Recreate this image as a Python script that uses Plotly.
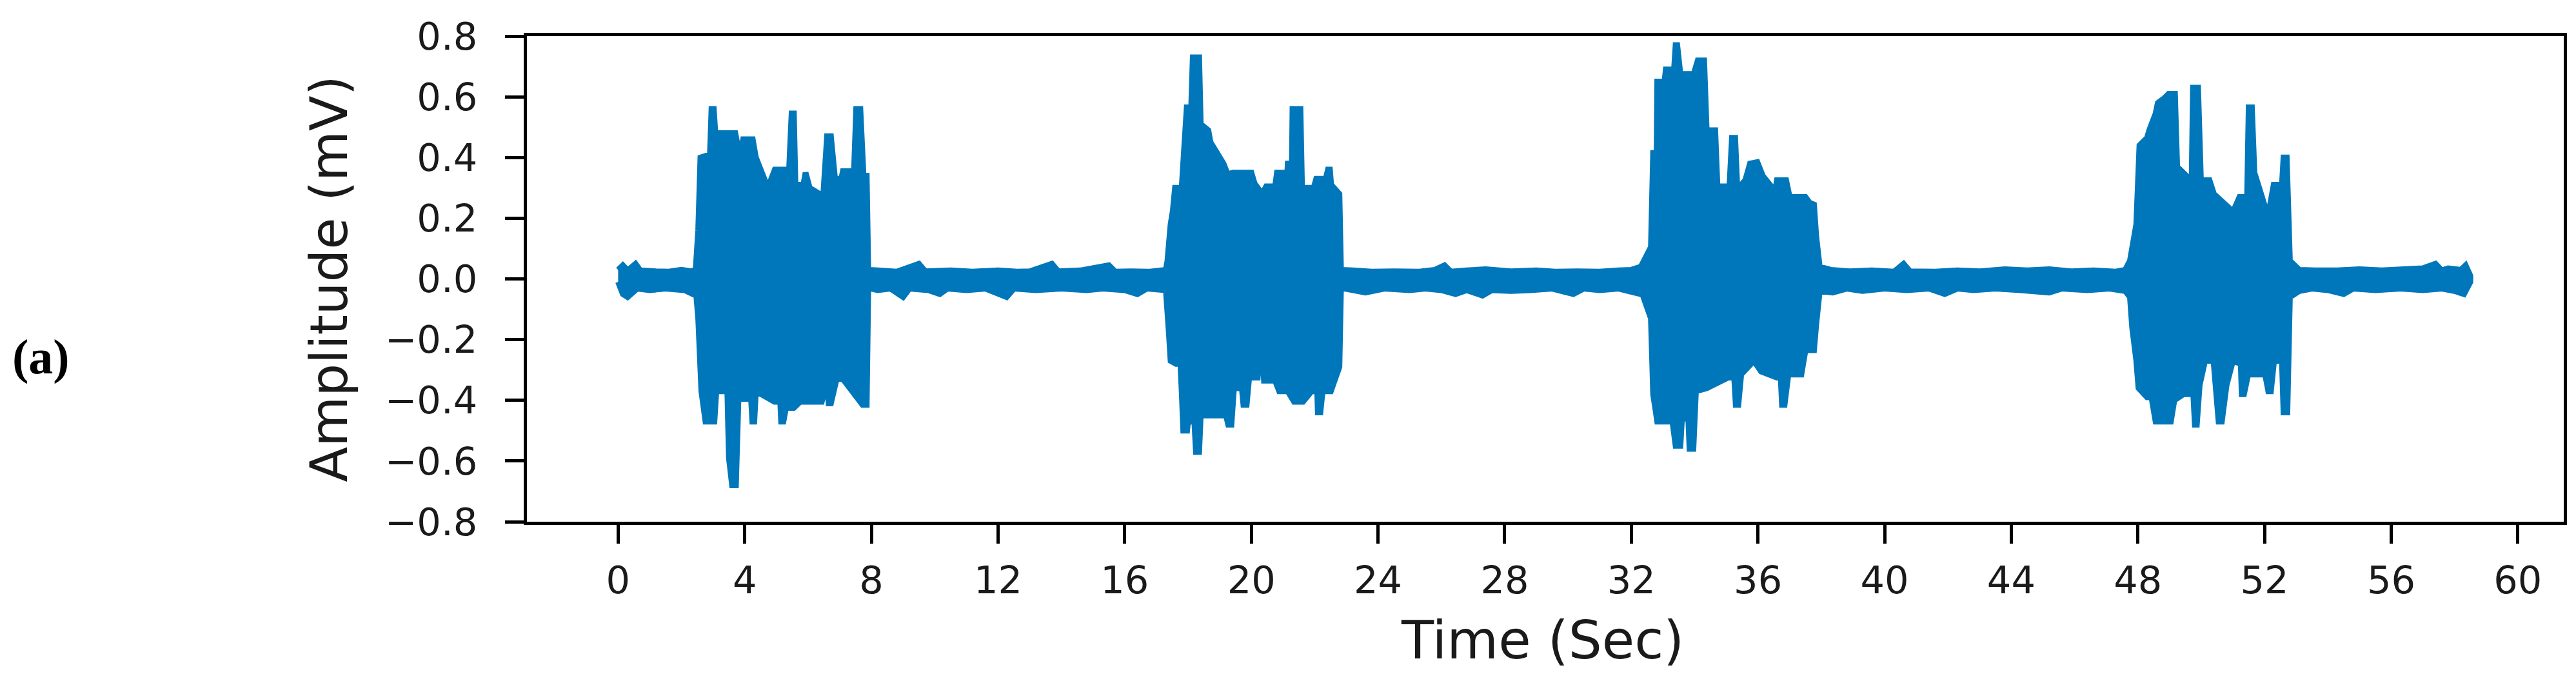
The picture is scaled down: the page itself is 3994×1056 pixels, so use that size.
import plotly.graph_objects as go

# EMG recording (a): edges of the raw trace band
# each entry is (time in s, amplitude in mV)

# upper edge, segment by segment
upper_rest_0 = [(0.0, 0.03), (0.15, 0.045), (0.3, 0.028), (0.55, 0.05), (0.7, 0.028),
                (1.2, 0.025), (1.6, 0.024), (2.0, 0.03), (2.3, 0.025), (2.45, 0.03)]
upper_burst_1 = [(2.53, 0.16), (2.6, 0.40), (2.9, 0.41), (2.95, 0.56), (3.02, 0.56),
                 (3.07, 0.48), (3.7, 0.48), (3.85, 0.40), (3.95, 0.46), (4.25, 0.46),
                 (4.35, 0.40), (4.73, 0.30), (4.95, 0.36), (5.4, 0.36), (5.48, 0.545),
                 (5.55, 0.545), (5.6, 0.31), (5.85, 0.31), (5.92, 0.35), (6.05, 0.30),
                 (6.36, 0.28), (6.45, 0.23), (6.6, 0.47), (6.72, 0.47), (6.85, 0.33),
                 (7.05, 0.33), (7.1, 0.355), (7.45, 0.355), (7.52, 0.56), (7.65, 0.56),
                 (7.75, 0.34), (7.85, 0.34), (7.9, 0.03)]
upper_rest_1 = [(8.2, 0.028), (8.8, 0.024), (9.5, 0.05), (9.7, 0.025), (10.5, 0.028),
                (11.2, 0.024), (12.0, 0.028), (12.6, 0.024), (13.0, 0.025), (13.7, 0.05),
                (13.9, 0.025), (14.6, 0.028), (15.5, 0.045), (15.7, 0.024), (16.2, 0.025),
                (16.8, 0.024), (17.3, 0.03)]
upper_burst_2 = [(17.35, 0.06), (17.45, 0.18), (17.52, 0.225), (17.59, 0.30), (17.8, 0.30),
                 (17.86, 0.40), (17.96, 0.565), (18.1, 0.565), (18.15, 0.73), (18.35, 0.73),
                 (18.4, 0.51), (18.64, 0.49), (18.71, 0.45), (19.12, 0.38), (19.25, 0.345),
                 (19.42, 0.35), (20.0, 0.35), (20.1, 0.315), (20.34, 0.28), (20.47, 0.305),
                 (20.75, 0.305), (20.81, 0.35), (21.0, 0.35), (21.08, 0.23), (21.15, 0.38),
                 (21.28, 0.38), (21.3, 0.56), (21.55, 0.56), (21.6, 0.30), (21.97, 0.30),
                 (22.05, 0.33), (22.35, 0.33), (22.42, 0.36), (22.48, 0.36), (22.52, 0.31),
                 (22.78, 0.28), (22.83, 0.03)]
upper_rest_2 = [(23.2, 0.028), (23.8, 0.024), (24.5, 0.025), (25.3, 0.024), (25.8, 0.03),
                (26.1, 0.045), (26.3, 0.024), (26.8, 0.028), (27.4, 0.032), (28.2, 0.025),
                (29.0, 0.028), (29.6, 0.024), (30.3, 0.025), (31.0, 0.024), (31.6, 0.028),
                (32.0, 0.03), (32.3, 0.04)]
upper_burst_3 = [(32.35, 0.05), (32.62, 0.105), (32.69, 0.415), (32.8, 0.415), (32.82, 0.65),
                 (33.05, 0.65), (33.09, 0.69), (33.35, 0.69), (33.4, 0.77), (33.45, 0.77),
                 (33.55, 0.675), (33.97, 0.675), (34.1, 0.72), (34.3, 0.72), (34.38, 0.49),
                 (34.65, 0.49), (34.72, 0.305), (35.1, 0.305), (35.18, 0.465), (35.28, 0.465),
                 (35.35, 0.295), (35.6, 0.325), (35.75, 0.38), (35.98, 0.385), (36.15, 0.34),
                 (36.42, 0.305), (36.48, 0.25), (36.6, 0.325), (36.89, 0.325), (37.0, 0.27),
                 (37.5, 0.27), (37.64, 0.25), (37.77, 0.245), (37.84, 0.14), (37.95, 0.04)]
upper_rest_3 = [(38.3, 0.03), (38.9, 0.025), (39.6, 0.028), (40.3, 0.024), (40.6, 0.05),
                (40.8, 0.025), (41.6, 0.024), (42.3, 0.028), (43.0, 0.025), (43.8, 0.032),
                (44.5, 0.028), (45.2, 0.032), (45.9, 0.025), (46.6, 0.028), (47.3, 0.024),
                (47.6, 0.03)]
upper_burst_4 = [(47.75, 0.06), (47.95, 0.18), (48.05, 0.44), (48.29, 0.465), (48.36, 0.49),
                 (48.56, 0.545), (48.63, 0.58), (48.83, 0.595), (48.97, 0.61), (49.17, 0.61),
                 (49.24, 0.37), (49.58, 0.335), (49.7, 0.335), (49.74, 0.63), (49.9, 0.63),
                 (49.99, 0.325), (50.26, 0.325), (50.4, 0.28), (50.87, 0.235), (51.0, 0.22),
                 (51.21, 0.27), (51.45, 0.27), (51.5, 0.565), (51.6, 0.565), (51.68, 0.35),
                 (51.89, 0.28), (52.02, 0.235), (52.16, 0.235), (52.29, 0.31), (52.55, 0.31),
                 (52.6, 0.40), (52.7, 0.40), (52.8, 0.06)]
upper_rest_4 = [(53.1, 0.03), (53.6, 0.028), (54.3, 0.028), (55.0, 0.032), (55.7, 0.028),
                (56.4, 0.032), (57.0, 0.035), (57.4, 0.05), (57.6, 0.028), (57.8, 0.035),
                (58.2, 0.03), (58.35, 0.045), (58.5, 0.01)]

# lower edge, segment by segment
lower_rest_0 = [(0.0, -0.01), (0.15, -0.05), (0.3, -0.06), (0.6, -0.032), (1.0, -0.037),
                (1.5, -0.032), (2.1, -0.037), (2.36, -0.05), (2.45, -0.032)]
lower_burst_1 = [(2.53, -0.13), (2.63, -0.37), (2.76, -0.47), (3.04, -0.47), (3.1, -0.37),
                 (3.45, -0.37), (3.5, -0.59), (3.6, -0.68), (3.72, -0.68), (3.8, -0.395),
                 (4.2, -0.395), (4.24, -0.47), (4.3, -0.47), (4.35, -0.37), (4.94, -0.405),
                 (5.12, -0.405), (5.15, -0.47), (5.22, -0.47), (5.3, -0.425), (5.55, -0.425),
                 (5.75, -0.405), (6.43, -0.405), (6.6, -0.34), (6.65, -0.41), (6.72, -0.41),
                 (6.9, -0.33), (7.1, -0.33), (7.72, -0.415), (7.85, -0.415), (7.9, -0.03)]
lower_rest_1 = [(8.2, -0.037), (8.6, -0.032), (9.0, -0.06), (9.2, -0.032), (9.8, -0.037),
                (10.16, -0.05), (10.4, -0.032), (11.0, -0.037), (11.6, -0.032), (12.27, -0.06),
                (12.5, -0.032), (13.2, -0.037), (14.0, -0.032), (14.8, -0.037), (15.3, -0.032),
                (16.0, -0.037), (16.4, -0.05), (16.7, -0.032), (17.3, -0.037)]
lower_burst_2 = [(17.39, -0.17), (17.45, -0.27), (17.62, -0.28), (17.76, -0.28), (17.8, -0.37),
                 (17.85, -0.50), (17.97, -0.50), (18.0, -0.47), (18.2, -0.47), (18.25, -0.57),
                 (18.35, -0.57), (18.4, -0.45), (19.2, -0.45), (19.27, -0.48), (19.37, -0.48),
                 (19.45, -0.36), (19.7, -0.36), (19.75, -0.415), (19.85, -0.415), (19.93, -0.325),
                 (20.2, -0.325), (20.27, -0.215), (20.33, -0.215), (20.4, -0.335), (20.75, -0.335),
                 (20.88, -0.37), (21.15, -0.37), (21.35, -0.405), (21.63, -0.405), (21.9, -0.37),
                 (22.08, -0.37), (22.1, -0.44), (22.18, -0.44), (22.25, -0.37), (22.51, -0.37),
                 (22.78, -0.29), (22.83, -0.03)]
lower_rest_2 = [(23.2, -0.037), (23.6, -0.045), (24.2, -0.032), (25.0, -0.037), (25.5, -0.032),
                (26.0, -0.037), (26.45, -0.05), (26.8, -0.037), (27.3, -0.055), (27.6, -0.037),
                (28.2, -0.04), (28.8, -0.037), (29.5, -0.032), (30.17, -0.05), (30.5, -0.032),
                (31.0, -0.037), (31.6, -0.032), (32.3, -0.05)]
lower_burst_3 = [(32.35, -0.05), (32.62, -0.13), (32.69, -0.38), (32.82, -0.47), (33.16, -0.47),
                 (33.3, -0.47), (33.4, -0.55), (33.55, -0.55), (33.6, -0.46), (33.8, -0.46),
                 (33.84, -0.56), (33.96, -0.56), (34.04, -0.37), (34.38, -0.36), (35.06, -0.325),
                 (35.25, -0.325), (35.3, -0.415), (35.38, -0.415), (35.47, -0.315), (35.87, -0.27),
                 (36.1, -0.305), (36.6, -0.325), (36.72, -0.325), (36.76, -0.415), (36.84, -0.415),
                 (36.96, -0.315), (37.37, -0.315), (37.5, -0.235), (37.77, -0.235), (37.84, -0.15),
                 (37.95, -0.04)]
lower_rest_3 = [(38.36, -0.045), (38.8, -0.032), (39.3, -0.04), (40.0, -0.032), (40.7, -0.037),
                (41.4, -0.032), (41.9, -0.05), (42.3, -0.032), (42.8, -0.037), (43.5, -0.032),
                (44.3, -0.037), (45.2, -0.045), (45.6, -0.032), (46.4, -0.037), (47.1, -0.032),
                (47.6, -0.04)]
lower_burst_4 = [(47.75, -0.06), (47.82, -0.16), (47.95, -0.27), (48.02, -0.36), (48.29, -0.39),
                 (48.43, -0.39), (48.56, -0.47), (49.04, -0.47), (49.15, -0.40), (49.44, -0.38),
                 (49.75, -0.38), (49.8, -0.48), (49.86, -0.48), (49.95, -0.35), (50.12, -0.27),
                 (50.39, -0.27), (50.55, -0.47), (50.65, -0.47), (50.8, -0.35), (51.0, -0.27),
                 (51.25, -0.28), (51.28, -0.38), (51.35, -0.38), (51.48, -0.315), (52.02, -0.315),
                 (52.12, -0.37), (52.2, -0.37), (52.3, -0.27), (52.55, -0.27), (52.6, -0.44),
                 (52.72, -0.44), (52.8, -0.06)]
lower_rest_4 = [(53.1, -0.04), (53.5, -0.032), (54.0, -0.037), (54.5, -0.05), (54.8, -0.032),
                (55.5, -0.037), (56.3, -0.032), (57.0, -0.037), (57.6, -0.032), (58.0, -0.04),
                (58.3, -0.05), (58.5, -0.01)]

x_ticks = list(range(0, 61, 4))
y_ticks = [-0.8, -0.6, -0.4, -0.2, 0.0, 0.2, 0.4, 0.6, 0.8]
y_ticktext = [f"{v:.1f}".replace("-", "\u2212") for v in y_ticks]

line_color = "#0077BB"
font_family = "DejaVu Sans"
text_color = "#1a1a1a"

upper_edge = (upper_rest_0 + upper_burst_1 + upper_rest_1 + upper_burst_2 + upper_rest_2
              + upper_burst_3 + upper_rest_3 + upper_burst_4 + upper_rest_4)
lower_edge = (lower_rest_0 + lower_burst_1 + lower_rest_1 + lower_burst_2 + lower_rest_2
              + lower_burst_3 + lower_rest_3 + lower_burst_4 + lower_rest_4)

# closed outline: upper edge left->right, then lower edge right->left
outline = upper_edge + lower_edge[::-1]
poly_x = [p[0] for p in outline]
poly_y = [p[1] for p in outline]

fig = go.Figure()
fig.add_trace(go.Scatter(x=poly_x, y=poly_y, mode="lines", fill="toself",
                         fillcolor=line_color,
                         line=dict(color=line_color, width=9, simplify=False),
                         hoverinfo="skip", showlegend=False))

axis_common = dict(showline=True, linecolor="black", linewidth=5, mirror=True,
                   ticks="outside", ticklen=29, tickwidth=5, tickcolor="black",
                   showgrid=False, zeroline=False,
                   tickfont=dict(family=font_family, size=59, color=text_color))

fig.update_xaxes(range=[-2.88, 61.45], tickmode="array", tickvals=x_ticks,
                 ticklabelstandoff=6, **axis_common)
fig.update_yaxes(range=[-0.8, 0.8], tickmode="array", tickvals=y_ticks,
                 ticktext=y_ticktext, ticklabelstandoff=31, **axis_common)

# axis titles placed as annotations (pixel positions)
fig.add_annotation(text="Time (Sec)", xref="paper", yref="paper",
                   x=(2383 - 809) / 3158, y=(801 - 984) / 753,
                   showarrow=False, xanchor="center", yanchor="middle",
                   font=dict(family=font_family, size=82, color=text_color))
fig.add_annotation(text="Amplitude (mV)", xref="paper", yref="paper",
                   x=(502 - 809) / 3158, y=0.5, textangle=-90,
                   showarrow=False, xanchor="center", yanchor="middle",
                   font=dict(family=font_family, size=80, color=text_color))

# panel label
fig.add_annotation(text="<b>(a)</b>", xref="paper", yref="paper",
                   x=(55 - 809) / 3158, y=(801 - 545) / 753,
                   showarrow=False, xanchor="center", yanchor="middle",
                   font=dict(family="Liberation Serif", size=76, color="black"))

fig.update_layout(width=3994, height=1056,
                  margin=dict(l=809, r=27, t=48, b=255),
                  plot_bgcolor="white", paper_bgcolor="white")

fig.write_html("out.html")
